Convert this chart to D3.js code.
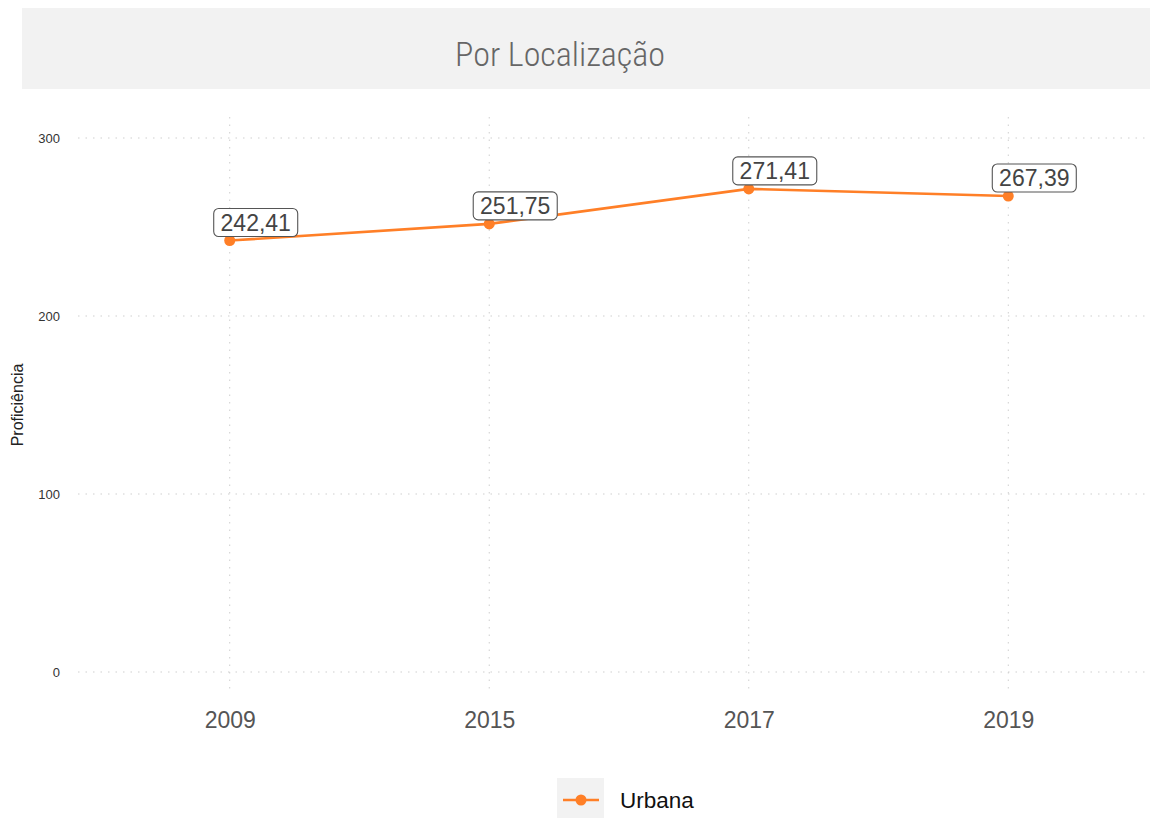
<!DOCTYPE html>
<html>
<head>
    <meta charset="utf-8">
    <style>
        body {
            margin: 0;
            background: white;
            font-family: 'Liberation Sans', Arial, sans-serif;
        }
        svg {
            display: block;
        }
    </style>
</head>
<body>
    <svg width="1150" height="818"></svg>

<script src="https://cdn.jsdelivr.net/npm/d3@7"></script>
<script>
    // data
    let years = ["2009", "2015", "2017", "2019"]
    let urbana = [242.41, 251.75, 271.41, 267.39]
    let yTicks = [0, 100, 200, 300]
    let seriesName = "Urbana"

    let width = 1150
    let height = 818
    let orange = "#ff7f27"

    let svg = d3.select("svg")

    // title band
    svg.append("rect")
        .attr("x", 22)
        .attr("y", 8)
        .attr("width", width - 22)
        .attr("height", 81)
        .attr("fill", "#f2f2f2")

    svg.append("text")
        .attr("x", 560)
        .attr("y", 66)
        .attr("text-anchor", "middle")
        .style("font-family", "'Liberation Sans Narrow', 'Roboto', sans-serif")
        .style("font-stretch", "condensed")
        .style("font-weight", 300)
        .style("font-size", "34px")
        .style("fill", "#666")
        .text("Por Localização")

    let x = d3.scalePoint()
        .domain(years)
        .range([74, 1164])
        .padding(0.6)

    let y = d3.scaleLinear()
        .domain([0, 300])
        .range([672, 138])

    let panelTop = 117
    let panelBottom = 693

    // grid
    svg.selectAll(".hgrid")
        .data(yTicks)
        .join("line")
        .attr("x1", 78)
        .attr("x2", width)
        .attr("y1", d => y(d))
        .attr("y2", d => y(d))
        .style("stroke", "#cfcfcf")
        .style("stroke-width", 1)
        .style("stroke-dasharray", "1.5,6")

    svg.selectAll(".vgrid")
        .data(years)
        .join("line")
        .attr("x1", d => x(d))
        .attr("x2", d => x(d))
        .attr("y1", panelTop)
        .attr("y2", panelBottom)
        .style("stroke", "#cfcfcf")
        .style("stroke-width", 1)
        .style("stroke-dasharray", "1.5,6")

    // y axis labels
    let yAxis = d3.axisLeft(y).tickValues(yTicks).tickSize(0).tickPadding(0)
    let gy = svg.append("g")
        .attr("transform", "translate(60,0)")
        .call(yAxis)
    gy.select(".domain").remove()
    gy.selectAll("text")
        .style("font-family", "'Liberation Sans', Arial, sans-serif")
        .style("font-size", "13px")
        .style("fill", "#333")

    // x axis labels
    let xAxis = d3.axisBottom(x).tickSize(0).tickPadding(0)
    let gx = svg.append("g")
        .attr("transform", "translate(0,712)")
        .call(xAxis)
    gx.select(".domain").remove()
    gx.selectAll("text")
        .style("font-family", "'Liberation Sans', Arial, sans-serif")
        .style("font-size", "23px")
        .style("fill", "#555")

    // y title
    svg.append("text")
        .attr("transform", "translate(23,405) rotate(-90)")
        .attr("text-anchor", "middle")
        .style("font-size", "16px")
        .style("fill", "#222")
        .text("Proficiência")

    // line
    let line = d3.line()
        .x((d, i) => x(years[i]))
        .y(d => y(d))

    svg.append("path")
        .datum(urbana)
        .attr("d", line)
        .style("fill", "none")
        .style("stroke", orange)
        .style("stroke-width", 2.6)

    svg.selectAll(".pt")
        .data(urbana)
        .join("circle")
        .attr("cx", (d, i) => x(years[i]))
        .attr("cy", d => y(d))
        .attr("r", 5.5)
        .style("fill", orange)

    // value labels, shifted a bit right of the point
    let fmt = d => d.toFixed(2).replace(".", ",")
    let labels = svg.selectAll(".lab")
        .data(urbana)
        .join("g")
        .attr("transform", (d, i) => `translate(${x(years[i]) + 26},${y(d) - 4})`)

    labels.append("rect")
        .attr("x", -42)
        .attr("y", -28)
        .attr("width", 84)
        .attr("height", 28)
        .attr("rx", 5)
        .style("fill", "white")
        .style("stroke", "#555")
        .style("stroke-width", 1.1)

    labels.append("text")
        .attr("x", 0)
        .attr("y", -6)
        .attr("text-anchor", "middle")
        .style("font-size", "23px")
        .style("fill", "#444")
        .text(fmt)

    // legend
    svg.append("rect")
        .attr("x", 557)
        .attr("y", 778)
        .attr("width", 47)
        .attr("height", 40)
        .attr("fill", "#f2f2f2")

    svg.append("line")
        .attr("x1", 563)
        .attr("x2", 599)
        .attr("y1", 800)
        .attr("y2", 800)
        .style("stroke", orange)
        .style("stroke-width", 2.6)

    svg.append("circle")
        .attr("cx", 581)
        .attr("cy", 800)
        .attr("r", 5.5)
        .style("fill", orange)

    svg.append("text")
        .attr("x", 620)
        .attr("y", 808)
        .style("font-size", "22.5px")
        .style("fill", "#111")
        .text(seriesName)
</script>
</body>
</html>
